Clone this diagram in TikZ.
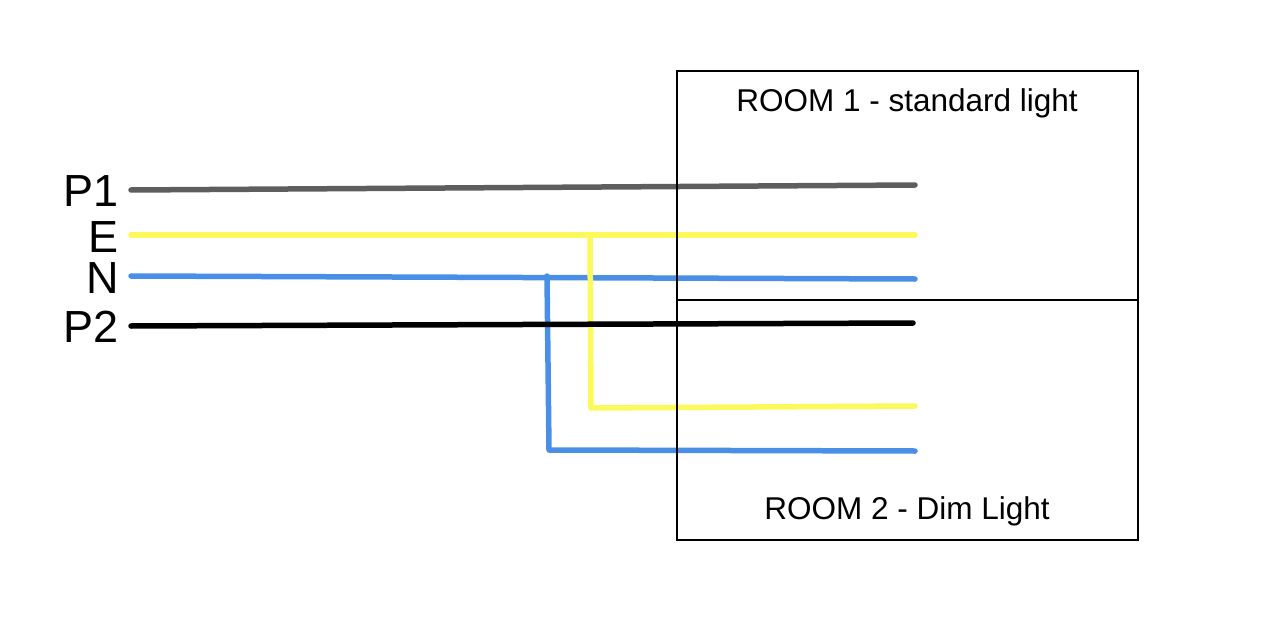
\documentclass[tikz,border=0pt]{standalone}
\usepackage{fontspec}
\setmainfont{Liberation Sans}
\definecolor{wgray}{HTML}{5E5E5E}
\definecolor{wyellow}{HTML}{FCF95A}
\definecolor{wblue}{HTML}{4A8FE6}
\begin{document}
\begin{tikzpicture}[x=1pt,y=-1pt,
  wire/.style={line width=5.5pt,line cap=round,line join=round},
  lbl/.style={anchor=east,inner sep=0pt,text height=32pt,text depth=0pt,font=\fontsize{45}{50}\selectfont},
  roomlbl/.style={inner sep=0pt,font=\fontsize{31.5}{34}\selectfont},
  box/.style={draw=black,line width=1.5pt,inner sep=0pt,outer sep=0pt,minimum width=461pt,anchor=north west}]
\useasboundingbox (0,0) rectangle (1272,626);
% labels
\node[lbl] (lp1) at (119,190) {P1};
\node[lbl] (le)  at (119,236) {E};
\node[lbl] (ln)  at (119,277) {N};
\node[lbl] (lp2) at (119,326) {P2};
% wire end points
\coordinate (p1a) at (131,190); \coordinate (p1b) at (915,185);
\coordinate (ea) at (131,235);  \coordinate (eb) at (915,235);
\coordinate (na) at (131,276);  \coordinate (nb) at (915,279);
\coordinate (p2a) at (131,326); \coordinate (p2b) at (913,323);
\coordinate (ej) at (590,236);  \coordinate (ec) at (591,408); \coordinate (ed) at (915,406);
\coordinate (nj) at (547,276);  \coordinate (nc) at (549,450); \coordinate (nd) at (915,451);
% wires
\draw[wire,wgray] (p1a) -- (p1b);
\draw[wire,wyellow] (ea) -- (eb);
\draw[wire,wblue] (na) -- (nb);
\draw[wire,wyellow] (ej) -- (ec) -- (ed);
\draw[wire,wblue] (nj) -- (nc) -- (nd);
\draw[wire,black] (p2a) -- (p2b);
% rooms
\node[box,minimum height=229pt] (room1) at (677,71) {};
\node[box,minimum height=240pt] (room2) at (677,300) {};
\node[roomlbl] (t1) at (907,103) {ROOM 1 - standard light};
\node[roomlbl] (t2) at (907,511) {ROOM 2 - Dim Light};
\end{tikzpicture}
\end{document}
